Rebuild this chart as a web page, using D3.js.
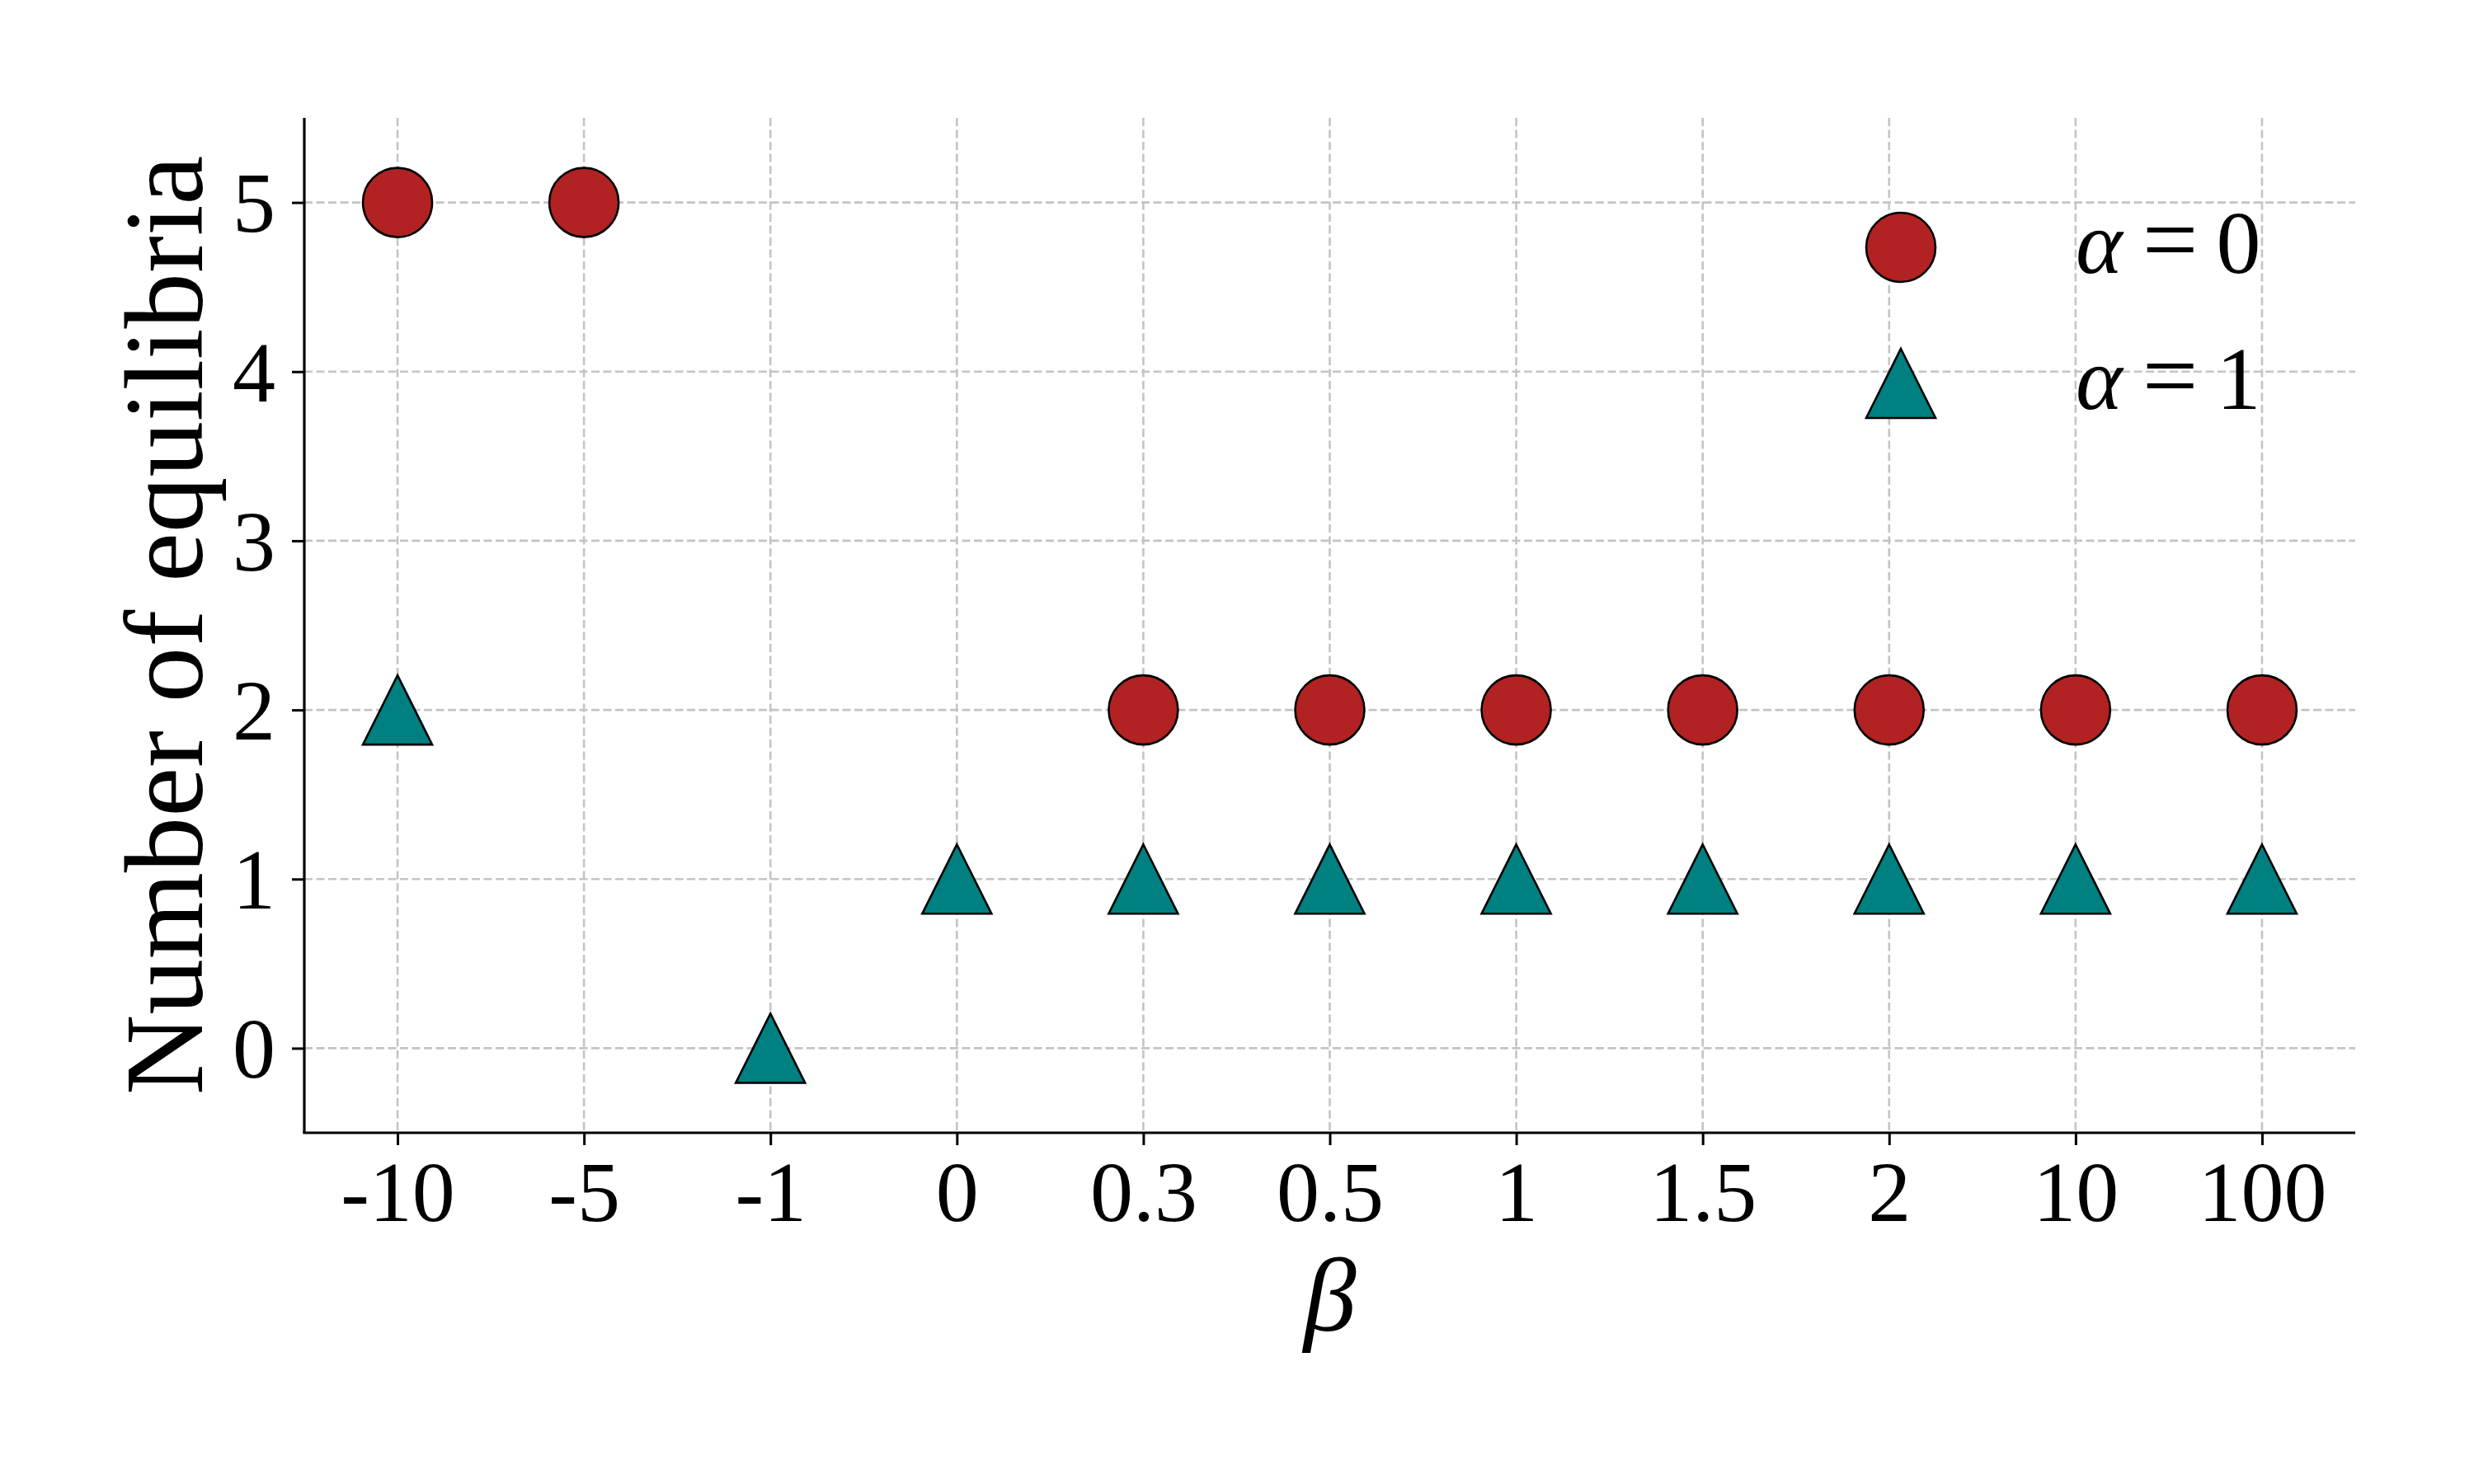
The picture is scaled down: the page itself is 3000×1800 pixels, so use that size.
<!DOCTYPE html>
<html>
<head>
<meta charset="utf-8">
<script src="https://cdn.jsdelivr.net/npm/d3@7"></script>
<style>
  body { margin: 0; background: #fff; }
  text { font-family: "Liberation Serif", "Times New Roman", serif; fill: #000; }
</style>
</head>
<body>
<svg id="chart" width="3000" height="1800"></svg>
<script>
// data
var betaLabels = ["-10", "-5", "-1", "0", "0.3", "0.5", "1", "1.5", "2", "10", "100"];
var alpha0 = [5, 5, null, null, 2, 2, 2, 2, 2, 2, 2];
var alpha1 = [2, null, 0, 1, 1, 1, 1, 1, 1, 1, 1];
var yTicks = [0, 1, 2, 3, 4, 5];

var svg = d3.select("svg#chart"),
    margin = { top: 143, right: 144, bottom: 426, left: 369 },
    width = 3000 - margin.left - margin.right,
    height = 1800 - margin.top - margin.bottom;

var x = d3.scalePoint().domain(betaLabels).range([0, width]).padding(0.5),
    y = d3.scaleLinear().domain([-0.5, 5.5]).range([height, 0]);

var g = svg.append("g")
    .attr("transform", "translate(" + margin.left + "," + margin.top + ")");

// grid
g.append("g").selectAll("line.gx")
    .data(betaLabels).enter().append("line")
    .attr("x1", function (d) { return x(d); })
    .attr("x2", function (d) { return x(d); })
    .attr("y1", 0).attr("y2", height)
    .attr("stroke", "#c4c4c4").attr("stroke-width", 2.6)
    .attr("stroke-dasharray", "10,4.5");

g.append("g").selectAll("line.gy")
    .data(yTicks).enter().append("line")
    .attr("x1", 0).attr("x2", width)
    .attr("y1", function (d) { return y(d); })
    .attr("y2", function (d) { return y(d); })
    .attr("stroke", "#c4c4c4").attr("stroke-width", 2.6)
    .attr("stroke-dasharray", "10,4.5");

// axes
var xAxis = g.append("g")
    .attr("transform", "translate(0," + height + ")")
    .call(d3.axisBottom(x).tickSize(15).tickPadding(18));

var yAxis = g.append("g")
    .call(d3.axisLeft(y).tickValues(yTicks).tickFormat(d3.format("d")).tickSize(15).tickPadding(20));

[xAxis, yAxis].forEach(function (ax) {
    ax.select(".domain").remove();
    ax.selectAll(".tick line").attr("stroke", "#000").attr("stroke-width", 3);
    ax.selectAll(".tick text")
        .style("font-family", "'Liberation Serif', serif")
        .style("font-size", "104px")
        .attr("fill", "#000");
});
yAxis.selectAll(".tick text").attr("dy", "0.34em");

// spines (left + bottom only)
g.append("line").attr("x1", 0).attr("x2", 0).attr("y1", 0).attr("y2", height)
    .attr("stroke", "#000").attr("stroke-width", 3.2);
g.append("line").attr("x1", -1.6).attr("x2", width).attr("y1", height).attr("y2", height)
    .attr("stroke", "#000").attr("stroke-width", 3.2);

var R = 42;
var triPath = function (cx, cy) {
    return "M" + cx + "," + (cy - R) + "L" + (cx + R) + "," + (cy + R) + "L" + (cx - R) + "," + (cy + R) + "Z";
};

// alpha = 0 circles
g.append("g").selectAll("circle")
    .data(betaLabels.map(function (b, i) { return { b: b, v: alpha0[i] }; })
        .filter(function (d) { return d.v !== null; }))
    .enter().append("circle")
    .attr("cx", function (d) { return x(d.b); })
    .attr("cy", function (d) { return y(d.v); })
    .attr("r", R)
    .attr("fill", "#b22222").attr("stroke", "#000").attr("stroke-width", 2.6);

// alpha = 1 triangles
g.append("g").selectAll("path")
    .data(betaLabels.map(function (b, i) { return { b: b, v: alpha1[i] }; })
        .filter(function (d) { return d.v !== null; }))
    .enter().append("path")
    .attr("d", function (d) { return triPath(x(d.b), y(d.v)); })
    .attr("fill", "#008080").attr("stroke", "#000").attr("stroke-width", 2.6)
    .attr("stroke-linejoin", "miter");

// axis labels
svg.append("text")
    .attr("x", margin.left + width / 2)
    .attr("y", 1614)
    .attr("text-anchor", "middle")
    .style("font-size", "128px")
    .style("font-style", "italic")
    .text("β");

svg.append("text")
    .attr("transform", "translate(245," + (margin.top + height / 2) + ") rotate(-90)")
    .attr("text-anchor", "middle")
    .style("font-size", "135px")
    .text("Number of equilibria");

// legend
var legend = svg.append("g");
var legendItems = [
    { label: "0", cy: 300, shape: "circle" },
    { label: "1", cy: 465, shape: "tri" }
];
legendItems.forEach(function (it) {
    if (it.shape === "circle") {
        legend.append("circle").attr("cx", 2305).attr("cy", it.cy).attr("r", R)
            .attr("fill", "#b22222").attr("stroke", "#000").attr("stroke-width", 2.6);
    } else {
        legend.append("path").attr("d", triPath(2305, it.cy))
            .attr("fill", "#008080").attr("stroke", "#000").attr("stroke-width", 2.6);
    }
    var t = legend.append("text")
        .attr("x", 2517).attr("y", it.cy + 31)
        .style("font-size", "108px");
    t.append("tspan").style("font-style", "italic").text("α");
    t.append("tspan").attr("dx", 24).style("font-size", "120px").text("=");
    t.append("tspan").attr("dx", 22).text(it.label);
});
</script>
</body>
</html>
